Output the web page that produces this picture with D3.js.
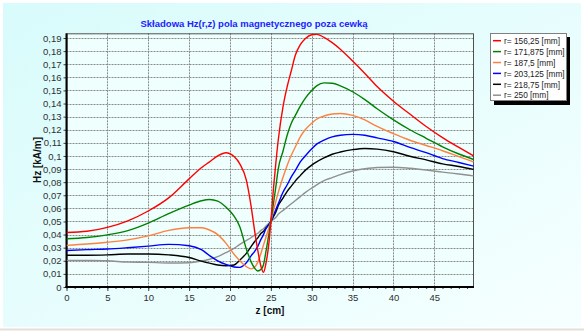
<!DOCTYPE html>
<html>
<head>
<meta charset="utf-8">
<script src="https://cdn.jsdelivr.net/npm/d3@7"></script>
<style>
  body { margin: 0; background: #fff; }
  svg { display: block; font-family: Arial, "Liberation Sans", sans-serif; }
</style>
</head>
<body>
<script>
const width = 584;
const height = 331;

// z positions [cm] shared by all series
const zValues = [0, 2.5, 5, 7.5, 10, 12.5, 15, 16.5, 17.5, 18.5, 19.5, 20.5, 21.2, 22, 22.6, 23, 23.4, 23.8, 24.1, 24.4, 24.8,
  25, 25.3, 25.6, 25.9, 26.5, 27, 27.5, 28, 28.6, 29.2, 30, 30.6, 31.5, 32.5, 33.5, 35, 36.5, 38, 40, 42, 44, 46, 48, 49.8];

// Hz [kA/m] per radius
const hz156 = [0.0416, 0.0425, 0.0455, 0.0505, 0.058, 0.068, 0.0825, 0.091, 0.0955, 0.100, 0.1025, 0.0995, 0.094, 0.0816, 0.061, 0.0434, 0.028, 0.0155, 0.0112, 0.018, 0.0358,
  0.050, 0.074, 0.094, 0.112, 0.138, 0.153, 0.165, 0.177, 0.185, 0.1895, 0.1925, 0.1928, 0.1905, 0.1865, 0.1815, 0.1725, 0.163, 0.153, 0.1418, 0.132, 0.1225, 0.114, 0.1065, 0.100];
const hz171 = [0.0368, 0.0378, 0.0398, 0.043, 0.0488, 0.056, 0.0625, 0.0658, 0.0668, 0.0655, 0.061, 0.054, 0.046, 0.029, 0.019, 0.0145, 0.0122, 0.0135, 0.017, 0.027, 0.042,
  0.050, 0.063, 0.076, 0.090, 0.104, 0.116, 0.125, 0.131, 0.138, 0.144, 0.150, 0.1535, 0.1558, 0.1555, 0.1535, 0.149, 0.143, 0.136, 0.1275, 0.120, 0.1135, 0.107, 0.1015, 0.0973];
const hz187 = [0.0318, 0.0328, 0.0342, 0.036, 0.039, 0.0432, 0.0452, 0.0452, 0.0435, 0.040, 0.0335, 0.025, 0.020, 0.0155, 0.0138, 0.015, 0.019, 0.026, 0.032, 0.038, 0.046,
  0.050, 0.058, 0.065, 0.072, 0.084, 0.093, 0.1005, 0.107, 0.1146, 0.120, 0.125, 0.128, 0.1305, 0.132, 0.1324, 0.131, 0.1275, 0.1225, 0.117, 0.112, 0.108, 0.104, 0.0995, 0.0955];
const hz203 = [0.0278, 0.0285, 0.029, 0.030, 0.0312, 0.0325, 0.0315, 0.0285, 0.024, 0.020, 0.0172, 0.0153, 0.015, 0.0185, 0.024, 0.027, 0.031, 0.0365, 0.040, 0.0445, 0.048,
  0.050, 0.0545, 0.059, 0.0635, 0.0725, 0.078, 0.084, 0.089, 0.0955, 0.100, 0.1055, 0.109, 0.112, 0.1145, 0.1158, 0.1165, 0.1158, 0.1138, 0.111, 0.1065, 0.1025, 0.098, 0.095, 0.0922];
const hz218 = [0.0242, 0.0242, 0.0245, 0.0252, 0.0252, 0.0245, 0.0225, 0.0198, 0.0182, 0.0168, 0.0162, 0.0168, 0.0205, 0.0257, 0.031, 0.0345, 0.0375, 0.041, 0.0425, 0.045, 0.048,
  0.050, 0.0535, 0.057, 0.062, 0.068, 0.073, 0.077, 0.081, 0.085, 0.089, 0.093, 0.0955, 0.0985, 0.1013, 0.103, 0.1048, 0.1057, 0.1052, 0.1032, 0.0998, 0.097, 0.094, 0.092, 0.0897];
const hz250 = [0.0203, 0.0202, 0.020, 0.019, 0.0188, 0.0183, 0.0185, 0.0198, 0.0212, 0.0232, 0.0262, 0.0295, 0.0325, 0.0355, 0.0378, 0.0395, 0.041, 0.0432, 0.0445, 0.0465, 0.0488,
  0.050, 0.0515, 0.053, 0.0555, 0.0585, 0.061, 0.0635, 0.066, 0.069, 0.072, 0.0755, 0.078, 0.0812, 0.0835, 0.0858, 0.0885, 0.0902, 0.0912, 0.0914, 0.0906, 0.0893, 0.0877, 0.0862, 0.0848];

const seriesNames = ["r= 156,25 [mm]", "r= 171,875 [mm]", "r= 187,5 [mm]", "r= 203,125 [mm]", "r= 218,75 [mm]", "r= 250 [mm]"];
const seriesValues = [hz156, hz171, hz187, hz203, hz218, hz250];
const seriesColors = ["#ff0000", "#008000", "#ff8040", "#0000ff", "#000000", "#909090"];

const xTicks = [0, 5, 10, 15, 20, 25, 30, 35, 40, 45];
const yTicks = [0, 0.01, 0.02, 0.03, 0.04, 0.05, 0.06, 0.07, 0.08, 0.09, 0.1, 0.11, 0.12, 0.13, 0.14, 0.15, 0.16, 0.17, 0.18, 0.19];

const plot = { left: 66.5, right: 474, top: 33.3, bottom: 287 };

var svg = d3.select("body").append("svg")
  .attr("width", width)
  .attr("height", height);

var defs = svg.append("defs");
var grad = defs.append("linearGradient").attr("id", "bg").attr("x1", 0).attr("y1", 0).attr("x2", 1).attr("y2", 1);
grad.append("stop").attr("offset", "0%").attr("stop-color", "#d8fbfb");
grad.append("stop").attr("offset", "100%").attr("stop-color", "#f6ffff");
defs.append("clipPath").attr("id", "clip").append("rect")
  .attr("x", plot.left).attr("y", plot.top)
  .attr("width", plot.right - plot.left).attr("height", plot.bottom - plot.top);

// panel background
svg.append("rect").attr("x", 3).attr("y", 3).attr("width", 578).attr("height", 324).attr("fill", "url(#bg)");
svg.append("line").attr("x1", 0).attr("x2", width).attr("y1", 329.5).attr("y2", 329.5)
  .attr("stroke", "#e2dfd9").attr("stroke-width", 2);

var x = d3.scaleLinear().domain([0, 49.85]).range([plot.left, plot.right]);
var y = d3.scaleLinear().domain([0, 0.1936]).range([plot.bottom, plot.top]);

svg.append("rect")
  .attr("x", plot.left).attr("y", plot.top)
  .attr("width", plot.right - plot.left).attr("height", plot.bottom - plot.top)
  .attr("fill", "#eefffe");

// grid
svg.append("g").selectAll("line").data(yTicks.slice(1)).enter().append("line")
  .attr("x1", plot.left).attr("x2", plot.right)
  .attr("y1", d => Math.round(y(d)) + 0.5).attr("y2", d => Math.round(y(d)) + 0.5)
  .attr("stroke", "#8a8a8a").attr("stroke-dasharray", "2,1");
svg.append("g").selectAll("line").data(xTicks.slice(1)).enter().append("line")
  .attr("y1", plot.top).attr("y2", plot.bottom)
  .attr("x1", d => Math.round(x(d)) + 0.5).attr("x2", d => Math.round(x(d)) + 0.5)
  .attr("stroke", "#8a8a8a").attr("stroke-dasharray", "2,1");

var fmt = d => String(+d.toFixed(2)).replace(".", ",");

// axes
var yAxis = svg.append("g")
  .attr("transform", "translate(" + plot.left + ",0)")
  .call(d3.axisLeft(y).tickValues(yTicks).tickSize(3).tickPadding(2).tickFormat(fmt));
var xMinor = svg.append("g")
  .attr("transform", "translate(0," + plot.bottom + ")")
  .call(d3.axisBottom(x).tickValues(d3.range(0, 50, 1)).tickSize(2).tickFormat(""));
var xAxis = svg.append("g")
  .attr("transform", "translate(0," + plot.bottom + ")")
  .call(d3.axisBottom(x).tickValues(xTicks).tickSize(4).tickPadding(3).tickFormat(fmt));
[yAxis, xMinor, xAxis].forEach(g => {
  g.select(".domain").remove();
  g.selectAll("text").attr("font-size", 9.5).attr("fill", "#303030").attr("font-family", "Arial, 'Liberation Sans', sans-serif");
  g.selectAll(".tick line").attr("stroke", "#404040");
});

// frame
svg.append("rect")
  .attr("x", plot.left + 0.5).attr("y", plot.top + 0.5)
  .attr("width", plot.right - plot.left - 1).attr("height", plot.bottom - plot.top - 1)
  .attr("fill", "none").attr("stroke", "#505050");
svg.append("line").attr("x1", plot.left).attr("x2", plot.left).attr("y1", plot.top).attr("y2", plot.bottom + 1)
  .attr("stroke", "#000").attr("stroke-width", 2);
svg.append("line").attr("x1", plot.left - 1).attr("x2", plot.right).attr("y1", plot.bottom).attr("y2", plot.bottom)
  .attr("stroke", "#000").attr("stroke-width", 2);

// curves
var line = d3.line()
  .x((d, i) => x(zValues[i]))
  .y(d => y(d))
  .curve(d3.curveMonotoneX);

svg.append("g").attr("clip-path", "url(#clip)")
  .selectAll("path")
  .data(seriesValues.slice().reverse())
  .enter()
  .append("path")
  .attr("d", d => line(d))
  .attr("fill", "none")
  .attr("stroke", (d, i) => seriesColors[seriesColors.length - 1 - i])
  .attr("stroke-width", 1.4);

// titles
svg.append("text")
  .attr("x", 254).attr("y", 27)
  .attr("text-anchor", "middle")
  .attr("font-size", 9.5).attr("font-weight", "bold").attr("fill", "#2222ff")
  .text("Składowa Hz(r,z) pola magnetycznego poza cewką");
svg.append("text")
  .attr("x", 270).attr("y", 314)
  .attr("text-anchor", "middle")
  .attr("font-size", 10).attr("font-weight", "bold").attr("fill", "#111")
  .text("z [cm]");
svg.append("text")
  .attr("transform", "translate(41,160) rotate(-90)")
  .attr("text-anchor", "middle")
  .attr("font-size", 10).attr("font-weight", "bold").attr("fill", "#111")
  .text("Hz [kA/m]");

// legend
var legend = svg.append("g").attr("transform", "translate(490,33)");
legend.append("rect").attr("x", 4).attr("y", 4).attr("width", 76).attr("height", 68).attr("fill", "#000");
legend.append("rect").attr("x", 0.5).attr("y", 0.5).attr("width", 76).attr("height", 67)
  .attr("fill", "#fff").attr("stroke", "#808080");
var item = legend.selectAll(".item").data(seriesNames).enter().append("g")
  .attr("transform", (d, i) => "translate(0," + (7.7 + i * 10.9) + ")");
item.append("line").attr("x1", 3).attr("x2", 11).attr("y1", 0).attr("y2", 0)
  .attr("stroke", (d, i) => seriesColors[i]).attr("stroke-width", 1.5);
item.append("text").attr("x", 14).attr("y", 3.2)
  .attr("font-size", 8.3).attr("fill", "#222")
  .text(d => d);
</script>
</body>
</html>
